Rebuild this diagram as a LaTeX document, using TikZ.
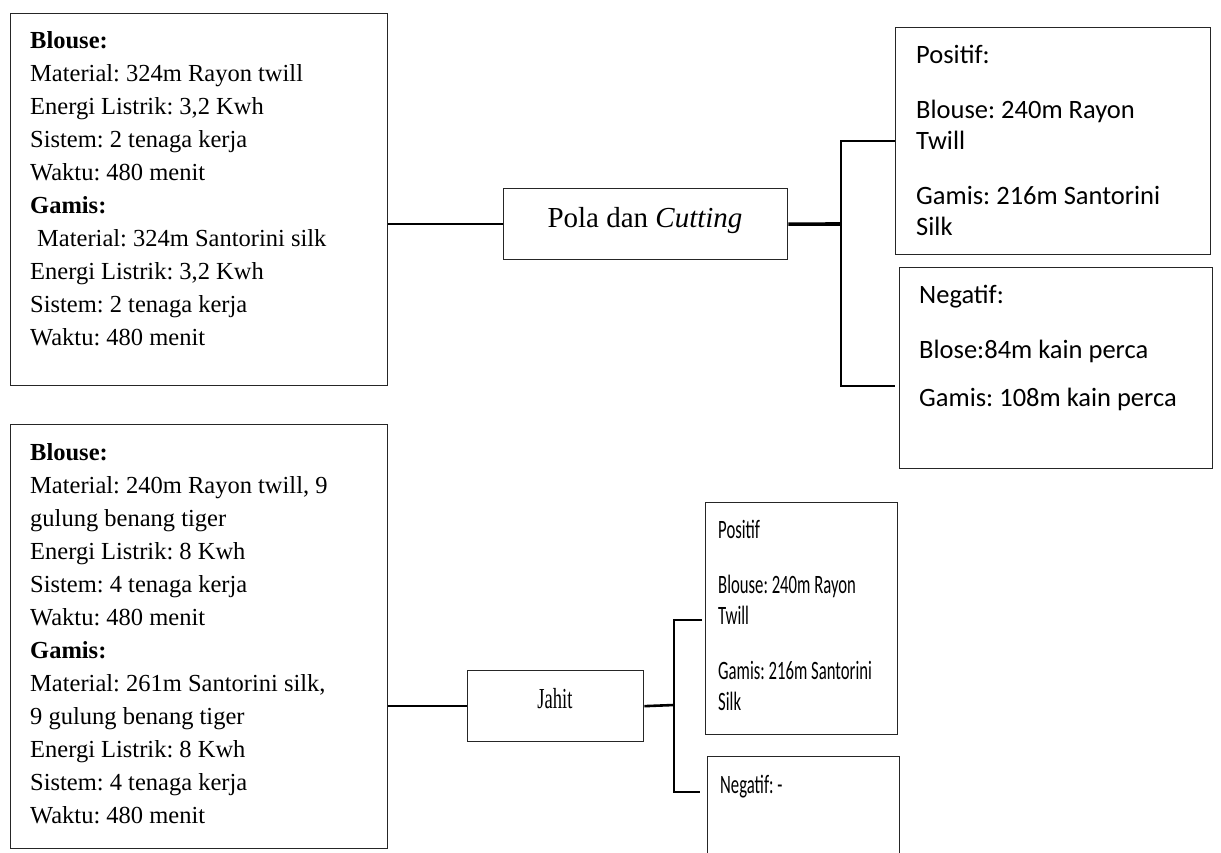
\documentclass[tikz,border=0pt]{standalone}
\usepackage{fontspec}
\setmainfont{Liberation Serif}
\newfontfamily\calfont{Carlito}
\newfontfamily\calnarrow[FakeStretch=0.63]{Carlito}
\newfontfamily\sernarrow[FakeStretch=0.64]{Liberation Serif}
\frenchspacing
\begin{document}
\begin{tikzpicture}[x=1pt,y=-1pt,
  box/.style={draw=black!85, line width=1.3pt, inner sep=0pt, anchor=north west},
  conn/.style={line width=2.6pt, draw=black},
  thickconn/.style={line width=3.6pt, draw=black},
  sertext/.style={anchor=base west, inner sep=0pt, align=left, font=\frenchspacing\fontsize{24.5}{33}\selectfont},
  caltext/.style={anchor=base west, inner sep=0pt, align=left, font=\frenchspacing\calfont\fontsize{26.5}{31}\selectfont},
  calntext/.style={anchor=base west, inner sep=0pt, align=left, font=\frenchspacing\calnarrow\fontsize{26.5}{31}\selectfont}
]
\useasboundingbox (0,0) rectangle (1221,852);

% boxes
\node[box, minimum width=377, minimum height=372] (a) at (10,13) {};
\node[box, minimum width=284, minimum height=71] (pola) at (503,188) {};
\node[box, minimum width=315, minimum height=227] (p1) at (895,27) {};
\node[box, minimum width=313, minimum height=201] (n1) at (899,267) {};
\node[box, minimum width=377, minimum height=424] (b) at (10,424) {};
\node[box, minimum width=176, minimum height=71] (jahit) at (467,670) {};
\node[box, minimum width=192, minimum height=232] (p2) at (705,502) {};
\node[box, minimum width=192, minimum height=130] (n2) at (707,756) {};

% texts (anchored at the baseline of the last line)
\node[sertext] (ta) at (30,345) {\textbf{Blouse:}\\
Material: 324m Rayon twill\\
Energi Listrik: 3,2 Kwh\\
Sistem: 2 tenaga kerja\\
Waktu: 480 menit\\
\textbf{Gamis:}\\
\hspace*{7pt}Material: 324m Santorini silk\\
Energi Listrik: 3,2 Kwh\\
Sistem: 2 tenaga kerja\\
Waktu: 480 menit};

\node[sertext] (tb) at (30,823) {\textbf{Blouse:}\\
Material: 240m Rayon twill, 9\\
gulung benang tiger\\
Energi Listrik: 8 Kwh\\
Sistem: 4 tenaga kerja\\
Waktu: 480 menit\\
\textbf{Gamis:}\\
Material: 261m Santorini silk,\\
9 gulung benang tiger\\
Energi Listrik: 8 Kwh\\
Sistem: 4 tenaga kerja\\
Waktu: 480 menit};

\node[anchor=base, inner sep=0pt, font=\fontsize{29}{33}\selectfont] (tpola) at (645,227) {Pola dan \textit{Cutting}};
\node[anchor=base, inner sep=0pt, font=\sernarrow\fontsize{29}{33}\selectfont] (tjahit) at (555,708) {Jahit};

\node[caltext] (tp1) at (916,235) {Positif:\\[24pt]
Blouse: 240m Rayon\\
Twill\\[24pt]
Gamis: 216m Santorini\\
Silk};
\node[caltext] (tn1) at (919,406) {Negatif:\\[24pt]
Blose:84m kain perca\\[17pt]
Gamis: 108m kain perca};

\node[calntext] (tp2) at (718,710) {Positif\\[24pt]
Blouse: 240m Rayon\\
Twill\\[24pt]
Gamis: 216m Santorini\\
Silk};
\node[calntext] (tn2) at (720,793) {Negatif: -};

% connectors top
\coordinate (j1) at (841,224);
\coordinate (e1) at (895,386);
\draw[conn] (a.east |- pola.west) -- (pola.west);
\draw[thickconn] (pola.east) -- (j1);
\draw[conn] (p1.west) -| (j1) |- (e1);

% connectors bottom
\coordinate (j2) at (674,705);
\coordinate (e2t) at (702,620);
\coordinate (e2b) at (700,792);
\draw[conn] (b.east |- jahit.west) -- (jahit.west);
\draw[conn] (jahit.east) -- (j2);
\draw[conn] (e2t) -| (j2) |- (e2b);
\end{tikzpicture}
\end{document}
